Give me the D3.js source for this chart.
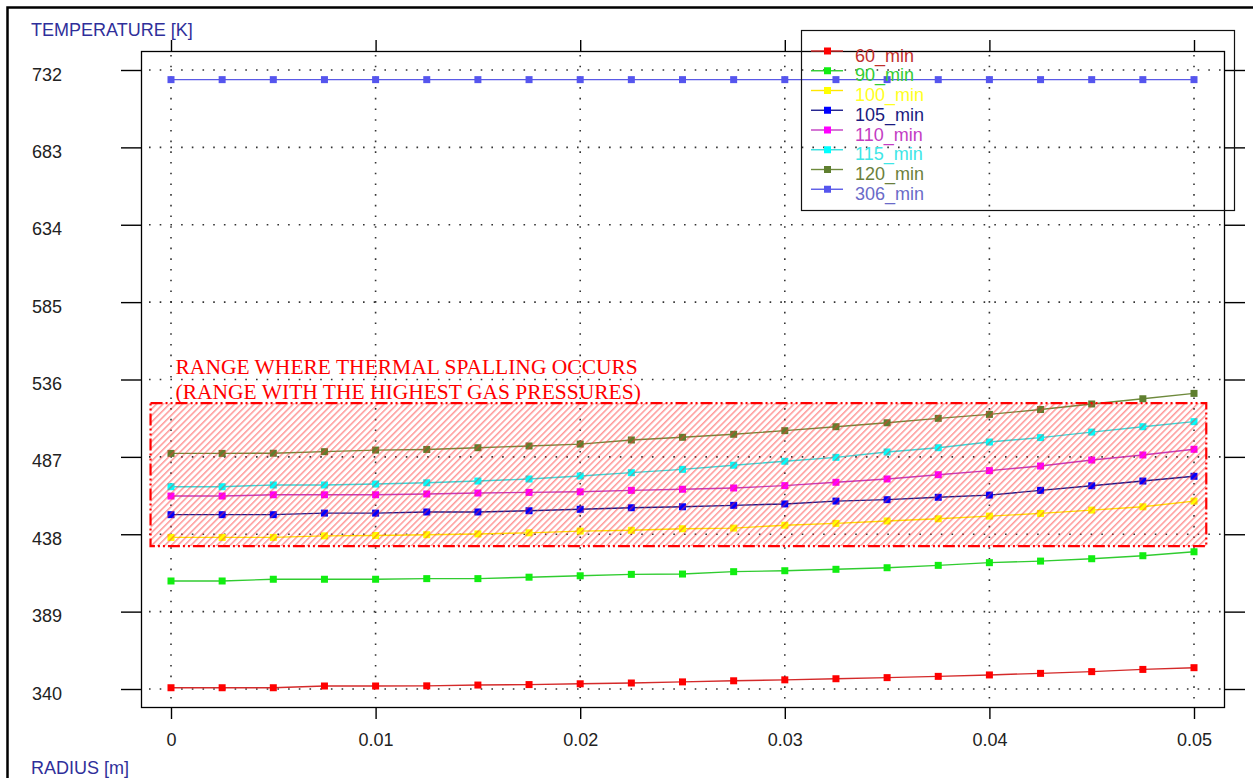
<!DOCTYPE html>
<html>
<head>
<meta charset="utf-8">
<script src="https://cdn.jsdelivr.net/npm/d3@7/dist/d3.min.js"></script>
<style>
  html, body { margin: 0; padding: 0; background: #fff; }
  svg { display: block; }
  text { font-family: "Liberation Sans", Arial, sans-serif; }
</style>
</head>
<body>
<svg id="chart" width="1253" height="778"></svg>
<script>
// Radial positions [m]
const radius = [0, 0.0025, 0.005, 0.0075, 0.01, 0.0125, 0.015, 0.0175, 0.02, 0.0225,
  0.025, 0.0275, 0.03, 0.0325, 0.035, 0.0375, 0.04, 0.0425, 0.045, 0.0475, 0.05];

// Temperature profiles [K] at each exposure time
const t60  = [340.8, 340.8, 340.8, 341.9, 341.9, 342.0, 342.5, 342.8, 343.3, 343.8,
  344.5, 345.2, 345.8, 346.5, 347.2, 348.0, 348.9, 349.9, 351.0, 352.4, 353.5];
const t90  = [408.4, 408.4, 409.5, 409.5, 409.5, 409.9, 409.9, 410.8, 411.7, 412.6,
  412.8, 414.3, 414.9, 415.8, 416.8, 418.3, 420.0, 421.0, 422.5, 424.4, 426.9];
const t100 = [436.0, 436.0, 436.0, 437.0, 437.2, 437.7, 438.2, 438.9, 440.0, 440.5,
  441.5, 441.9, 443.7, 444.9, 446.4, 447.8, 449.5, 451.2, 453.3, 455.4, 459.0];
const t105 = [450.4, 450.4, 450.4, 451.4, 451.4, 452.1, 452.1, 452.9, 453.8, 454.8,
  455.4, 456.3, 457.2, 459.0, 459.9, 461.4, 462.8, 465.8, 468.7, 471.7, 474.7];
const t110 = [462.2, 462.2, 463.0, 463.0, 463.0, 463.5, 464.1, 464.5, 464.9, 465.8,
  466.5, 467.3, 468.8, 470.9, 473.0, 475.7, 478.3, 481.2, 485.0, 488.2, 491.8];
const t115 = [468.1, 468.1, 469.2, 469.2, 469.8, 470.6, 471.7, 473.0, 474.9, 477.0,
  479.1, 481.7, 484.2, 486.7, 490.1, 492.8, 496.4, 499.2, 502.7, 506.1, 509.3];
const t120 = [489.2, 489.2, 489.3, 490.3, 491.3, 491.7, 492.8, 493.9, 495.1, 497.7,
  499.4, 501.3, 503.6, 506.1, 508.6, 511.4, 513.9, 517.0, 520.5, 523.8, 527.2];
const t306 = [725.9, 725.9, 725.9, 725.9, 725.9, 725.9, 725.9, 725.9, 725.9, 725.9,
  725.9, 725.9, 725.9, 725.9, 725.9, 725.9, 725.9, 725.9, 725.9, 725.9, 725.9];

const seriesNames = ["60_min", "90_min", "100_min", "105_min", "110_min", "115_min", "120_min", "306_min"];
const seriesValues = [t60, t90, t100, t105, t110, t115, t120, t306];

const yTicks = [340, 389, 438, 487, 536, 585, 634, 683, 732];
const xTicks = [0, 0.01, 0.02, 0.03, 0.04, 0.05];

// Spalling range (radius, temperature)
const bandRadius = [-0.001, 0.0506];
const bandTemp = [430.5, 521];
const bandLabel = ["RANGE WHERE THERMAL SPALLING OCCURS", "(RANGE WITH THE HIGHEST GAS PRESSURES)"];

// Styles
const lineColors   = ["#d42a2a", "#30cc30", "#ffe600", "#1c1c8c", "#c23cc2", "#33dede", "#6e8a3c", "#5a5ae6"];
const markerColors = ["#ff0000", "#11ee11", "#ffff00", "#0000ff", "#ff00ff", "#00ffff", "#5f7f2f", "#5555ee"];
const textColors   = ["#c0302d", "#33cc33", "#ffff22", "#1a1a80", "#c33cc3", "#3ee6e6", "#6b7f3c", "#6a6ac8"];

const svg = d3.select("#chart");
const frame = { left: 141, right: 1224, top: 51, bottom: 707 };

const x = d3.scaleLinear().domain([0, 0.05]).range([171, 1194]);
const y = d3.scaleLinear().domain([340, 732]).range([689, 70]);

// outer border
svg.append("path")
  .attr("d", "M7.5,790 V7.5 H1265")
  .attr("fill", "none").attr("stroke", "#000").attr("stroke-width", 2.5);

// dotted grid
const grid = svg.append("g").attr("stroke", "#333").attr("stroke-width", 1.6)
  .attr("stroke-dasharray", "1.6,9.1");
grid.selectAll("line.h").data(yTicks).join("line").attr("class", "h")
  .attr("x1", frame.left + 8).attr("x2", frame.right)
  .attr("y1", d => y(d)).attr("y2", d => y(d));
grid.selectAll("line.v").data(xTicks).join("line").attr("class", "v")
  .attr("x1", d => x(d)).attr("x2", d => x(d))
  .attr("y1", frame.top + 4).attr("y2", frame.bottom);

// series lines and markers
const line = d3.line().x((d, i) => x(radius[i])).y(d => y(d));
const seriesG = svg.append("g");
seriesValues.forEach((vals, s) => {
  seriesG.append("path").datum(vals)
    .attr("d", line).attr("fill", "none")
    .attr("stroke", lineColors[s]).attr("stroke-width", 1.4);
  seriesG.append("g").selectAll("rect").data(vals).join("rect")
    .attr("x", (d, i) => x(radius[i]) - 3.5).attr("y", d => y(d) - 3.5)
    .attr("width", 7).attr("height", 7).attr("fill", markerColors[s]);
});

// hatched spalling band
const defs = svg.append("defs");
const pat = defs.append("pattern").attr("id", "hatch")
  .attr("patternUnits", "userSpaceOnUse").attr("width", 4.6).attr("height", 4.6)
  .attr("patternTransform", "rotate(45)");
pat.append("line").attr("x1", 0.8).attr("y1", 0).attr("x2", 0.8).attr("y2", 4.6)
  .attr("stroke", "rgba(255,45,45,0.62)").attr("stroke-width", 1.2);

const bx0 = x(bandRadius[0]), bx1 = x(bandRadius[1]);
const by0 = y(bandTemp[1]), by1 = y(bandTemp[0]);
svg.append("rect").attr("x", bx0).attr("y", by0)
  .attr("width", bx1 - bx0).attr("height", by1 - by0)
  .attr("fill", "url(#hatch)");
svg.append("rect").attr("x", bx0).attr("y", by0)
  .attr("width", bx1 - bx0).attr("height", by1 - by0)
  .attr("fill", "none").attr("stroke", "#ff0000").attr("stroke-width", 2.2)
  .attr("stroke-dasharray", "12,3,2,3,2,3");

svg.append("g").selectAll("text").data(bandLabel).join("text")
  .attr("x", bx0 + 25).attr("y", (d, i) => by0 - 29 + i * 25)
  .attr("fill", "#ff0000")
  .style("font-family", "'Liberation Serif', 'Times New Roman', serif")
  .style("font-size", "21.5px")
  .text(d => d);

// plot frame
svg.append("rect").attr("x", frame.left + 0.5).attr("y", frame.top + 0.5)
  .attr("width", frame.right - frame.left).attr("height", frame.bottom - frame.top)
  .attr("fill", "none").attr("stroke", "#000").attr("stroke-width", 1.3);

// axes
function styleAxis(g) {
  g.select(".domain").remove();
  g.selectAll(".tick line").attr("stroke", "#000").attr("stroke-width", 1.4);
  g.selectAll(".tick text").attr("fill", "#222")
    .style("font-size", "18px").style("font-family", "'Liberation Sans', Arial, sans-serif");
}
svg.append("g").attr("transform", `translate(${frame.left},0)`)
  .call(d3.axisLeft(y).tickValues(yTicks).tickSize(20).tickPadding(59).tickFormat(d3.format("d")))
  .call(styleAxis)
  .call(g => g.selectAll(".tick text").attr("dy", "10px"));
svg.append("g").attr("transform", `translate(${frame.right},0)`)
  .call(d3.axisRight(y).tickValues(yTicks).tickSize(21).tickFormat(""))
  .call(styleAxis);
svg.append("g").attr("transform", `translate(0,${frame.top})`)
  .call(d3.axisTop(x).tickValues(xTicks).tickSize(11).tickFormat(""))
  .call(styleAxis);
svg.append("g").attr("transform", `translate(0,${frame.bottom})`)
  .call(d3.axisBottom(x).tickValues(xTicks).tickSize(12).tickPadding(14).tickFormat(d => String(d)))
  .call(styleAxis);

// axis titles
svg.append("text").attr("x", 31).attr("y", 36).attr("fill", "#2f2f9a")
  .style("font-size", "18px").text("TEMPERATURE [K]");
svg.append("text").attr("x", 31).attr("y", 774).attr("fill", "#2f2f9a")
  .style("font-size", "18px").text("RADIUS [m]");

// legend
const legend = svg.append("g");
legend.append("rect").attr("x", 801.5).attr("y", 30.5).attr("width", 433).attr("height", 180)
  .attr("fill", "none").attr("stroke", "#111").attr("stroke-width", 1.2);
const rows = legend.selectAll("g.row").data(seriesNames).join("g").attr("class", "row")
  .attr("transform", (d, i) => `translate(0,${51 + i * 19.75})`);
rows.append("line").attr("x1", 811).attr("x2", 843).attr("y1", 0).attr("y2", 0)
  .attr("stroke", (d, i) => lineColors[i]).attr("stroke-width", 1.4);
rows.append("rect").attr("x", 824).attr("y", -3.5).attr("width", 7).attr("height", 7)
  .attr("fill", (d, i) => markerColors[i]);
rows.append("text").attr("x", 855).attr("y", 10.5)
  .attr("fill", (d, i) => textColors[i]).style("font-size", "18px")
  .text(d => d);
</script>
</body>
</html>
